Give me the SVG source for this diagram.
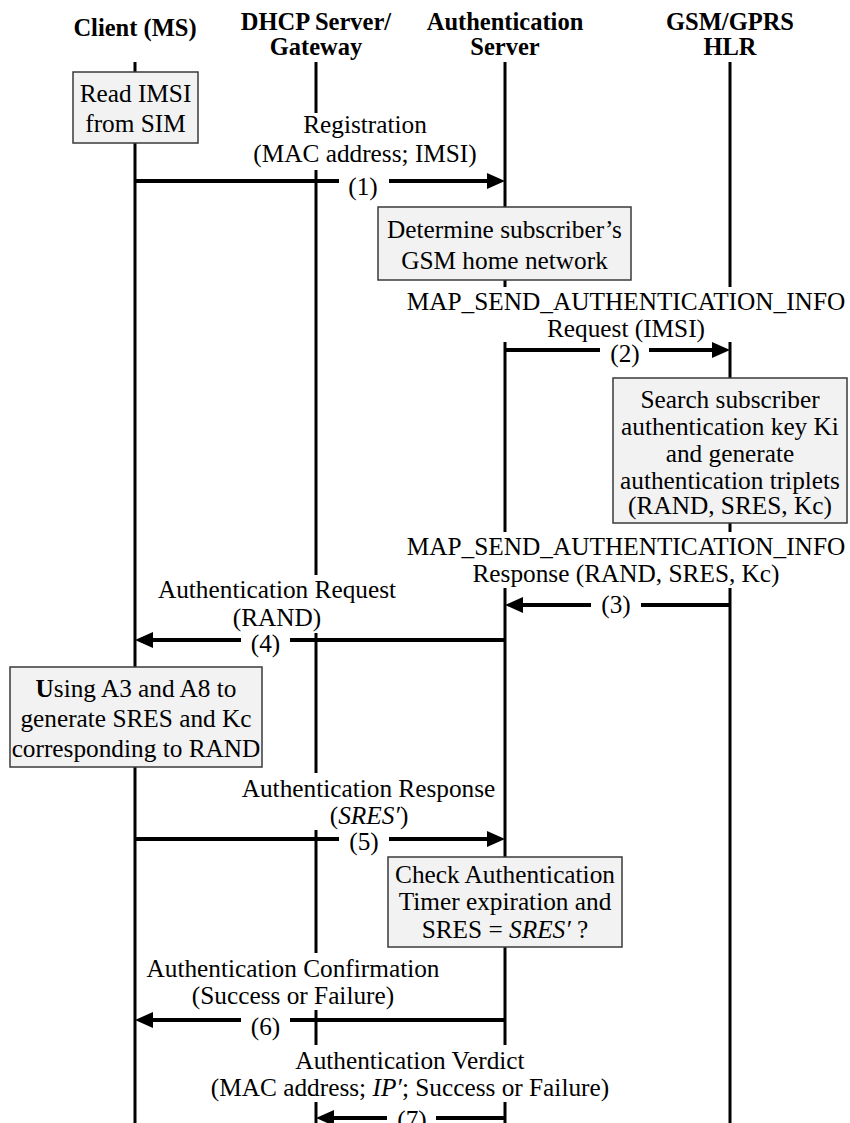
<svg xmlns="http://www.w3.org/2000/svg" width="850" height="1123" viewBox="0 0 850 1123">
  <defs>
    <marker id="head" markerUnits="userSpaceOnUse" markerWidth="20" markerHeight="18" refX="8" refY="8" orient="auto">
      <path d="M0,0 L18,8 L0,16 z" fill="#000"/>
    </marker>
    <style>
      text { font-family: "Liberation Serif", "Times New Roman", serif; font-size: 25.3px; fill: #000; text-anchor: middle; }
      .hdr { font-weight: bold; font-size: 24.5px; }
      .life { stroke: #000; stroke-width: 3; fill: none; }
      .msg { stroke: #000; stroke-width: 4; fill: none; marker-end: url(#head); }
      .box { fill: #f2f2f2; stroke: #3a3a3a; stroke-width: 1.5; }
      .bg { fill: #fff; }
      .it { font-style: italic; }
      .b { font-weight: bold; }
    </style>
  </defs>
  <rect width="850" height="1123" fill="#fff"/>

  <!-- participants -->
  <g id="client">
    <text class="hdr" x="135" y="36">Client (MS)</text>
    <line class="life" x1="135" y1="62" x2="135" y2="1123"/>
  </g>
  <g id="dhcp">
    <text class="hdr" x="316" y="30">DHCP Server/</text>
    <text class="hdr" x="316" y="55">Gateway</text>
    <line class="life" x1="316" y1="62" x2="316" y2="1123"/>
  </g>
  <g id="auth">
    <text class="hdr" x="505" y="30">Authentication</text>
    <text class="hdr" x="505" y="55">Server</text>
    <line class="life" x1="505" y1="62" x2="505" y2="1123"/>
  </g>
  <g id="hlr">
    <text class="hdr" x="730" y="30">GSM/GPRS</text>
    <text class="hdr" x="730" y="55">HLR</text>
    <line class="life" x1="730" y1="62" x2="730" y2="1123"/>
  </g>

  <!-- messages -->
  <g id="connectors">
    <line class="msg" x1="135" y1="181" x2="495" y2="181"/>
    <line class="msg" x1="505" y1="350" x2="720" y2="350"/>
    <line class="msg" x1="730" y1="605" x2="515" y2="605"/>
    <line class="msg" x1="505" y1="640" x2="145" y2="640"/>
    <line class="msg" x1="135" y1="839" x2="495" y2="839"/>
    <line class="msg" x1="505" y1="1020" x2="145" y2="1020"/>
    <line class="msg" x1="505" y1="1118" x2="326" y2="1118"/>
  </g>

  <!-- message labels -->
  <g id="label-1">
    <rect class="bg" x="255" y="113" width="222" height="57"/>
    <text x="365" y="133">Registration</text>
    <text x="365" y="162">(MAC address; IMSI)</text>
    <rect class="bg" x="339" y="172" width="50" height="26"/>
    <text x="363" y="195">(1)</text>
  </g>
  <g id="label-2">
    <rect class="bg" x="406" y="287" width="440" height="55"/>
    <text x="626" y="310">MAP_SEND_AUTHENTICATION_INFO</text>
    <text x="626" y="337">Request (IMSI)</text>
    <rect class="bg" x="600" y="344" width="49" height="24"/>
    <text x="625" y="362">(2)</text>
  </g>
  <g id="label-3">
    <rect class="bg" x="406" y="532" width="440" height="56"/>
    <text x="626" y="555">MAP_SEND_AUTHENTICATION_INFO</text>
    <text x="626" y="582">Response (RAND, SRES, Kc)</text>
    <rect class="bg" x="591" y="595" width="50" height="24"/>
    <text x="616" y="613">(3)</text>
  </g>
  <g id="label-4">
    <rect class="bg" x="157" y="575" width="240" height="58"/>
    <text x="277" y="598">Authentication Request</text>
    <text x="277" y="626">(RAND)</text>
    <rect class="bg" x="241" y="630" width="49" height="24"/>
    <text x="265.5" y="652">(4)</text>
  </g>
  <g id="label-5">
    <rect class="bg" x="241" y="773" width="255" height="57"/>
    <text x="368.5" y="797">Authentication Response</text>
    <text x="369" y="824">(<tspan class="it">SRES′</tspan>)</text>
    <rect class="bg" x="339" y="830" width="50" height="24"/>
    <text x="364" y="850">(5)</text>
  </g>
  <g id="label-6">
    <rect class="bg" x="146" y="953" width="293" height="57"/>
    <text x="293" y="977">Authentication Confirmation</text>
    <text x="293" y="1004">(Success or Failure)</text>
    <rect class="bg" x="241" y="1011" width="49" height="24"/>
    <text x="265.5" y="1035">(6)</text>
  </g>
  <g id="label-7">
    <rect class="bg" x="208" y="1045" width="405" height="57"/>
    <text x="410" y="1069">Authentication Verdict</text>
    <text x="410" y="1096">(MAC address; <tspan class="it">IP′</tspan>; Success or Failure)</text>
    <rect class="bg" x="387" y="1108" width="49" height="15"/>
    <text x="412" y="1128">(7)</text>
  </g>

  <!-- activity boxes -->
  <g id="read-imsi">
    <rect class="box" x="73" y="72" width="125" height="71"/>
    <text x="135.5" y="102">Read IMSI</text>
    <text x="135.5" y="132">from SIM</text>
  </g>
  <g id="home-network">
    <rect class="box" x="378" y="207" width="253" height="73"/>
    <text x="504.5" y="238">Determine subscriber’s</text>
    <text x="504.5" y="269">GSM home network</text>
  </g>
  <g id="triplets">
    <rect class="box" x="613" y="378" width="234" height="145"/>
    <text x="730" y="408">Search subscriber</text>
    <text x="730" y="435">authentication key Ki</text>
    <text x="730" y="462">and generate</text>
    <text x="730" y="489">authentication triplets</text>
    <text x="730" y="514">(RAND, SRES, Kc)</text>
  </g>
  <g id="a3-a8">
    <rect class="box" x="10" y="667" width="252" height="100"/>
    <text x="136" y="697"><tspan class="b">U</tspan>sing A3 and A8 to</text>
    <text x="136" y="727">generate SRES and Kc</text>
    <text x="136" y="757">corresponding to RAND</text>
  </g>
  <g id="check">
    <rect class="box" x="388" y="857" width="234" height="90"/>
    <text x="505" y="883">Check Authentication</text>
    <text x="505" y="910">Timer expiration and</text>
    <text x="505" y="938">SRES = <tspan class="it">SRES′</tspan> ?</text>
  </g>
</svg>
